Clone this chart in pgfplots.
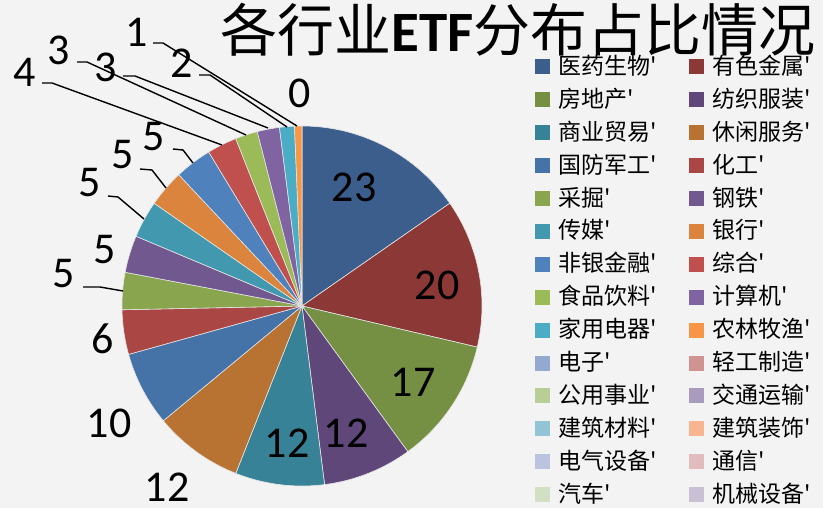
\documentclass[border=0pt]{standalone}
\usepackage{pgfplots}
\usepackage{pgfplotstable}
\pgfplotsset{compat=1.18}
\usepackage{fontspec}
\setmainfont{Carlito}
\newfontfamily\cjk{Noto Sans CJK SC}

\definecolor{bg}{HTML}{F3F3F3}
\definecolor{sep}{HTML}{E6E6E6}
\definecolor{c1}{HTML}{3B5E8C}
\definecolor{c2}{HTML}{8C3836}
\definecolor{c3}{HTML}{758F43}
\definecolor{c4}{HTML}{5F4879}
\definecolor{c5}{HTML}{378296}
\definecolor{c6}{HTML}{B87333}
\definecolor{c7}{HTML}{4572A7}
\definecolor{c8}{HTML}{AA4644}
\definecolor{c9}{HTML}{89A54E}
\definecolor{c10}{HTML}{71588F}
\definecolor{c11}{HTML}{4198AF}
\definecolor{c12}{HTML}{DB843D}
\definecolor{c13}{HTML}{4F81BD}
\definecolor{c14}{HTML}{C0504D}
\definecolor{c15}{HTML}{9BBB59}
\definecolor{c16}{HTML}{8064A2}
\definecolor{c17}{HTML}{4BACC6}
\definecolor{c18}{HTML}{F79646}
\definecolor{c19}{HTML}{93A9CF}
\definecolor{c20}{HTML}{D19392}
\definecolor{c21}{HTML}{B9CD96}
\definecolor{c22}{HTML}{A99BBD}
\definecolor{c23}{HTML}{92C4D6}
\definecolor{c24}{HTML}{F9B590}
\definecolor{c25}{HTML}{BAC4DE}
\definecolor{c26}{HTML}{E2BCBC}
\definecolor{c27}{HTML}{D3DFC2}
\definecolor{c28}{HTML}{C9C0D6}

% ETF count per industry
\pgfplotstableread[col sep=comma]{
name,val
医药生物,23
有色金属,20
房地产,17
纺织服装,12
商业贸易,12
休闲服务,12
国防军工,10
化工,6
采掘,5
钢铁,5
传媒,5
银行,5
非银金融,5
综合,4
食品饮料,3
计算机,3
家用电器,2
农林牧渔,1
电子,0
轻工制造,0
公用事业,0
交通运输,0
建筑材料,0
建筑装饰,0
电气设备,0
通信,0
汽车,0
机械设备,0
}\pietable

\newcommand{\labfont}{\fontsize{44}{44}\selectfont}

\begin{document}
\begin{tikzpicture}
\useasboundingbox (0,0) rectangle (823pt,508pt);
\fill[bg] (0,0) rectangle (823pt,508pt);
\begin{axis}[
  at={(0pt,0pt)}, anchor=south west,
  width=823pt, height=508pt, scale only axis,
  xmin=0, xmax=823, ymin=0, ymax=508, y dir=reverse,
  hide axis, clip=false,
  legend columns=2,
  legend cell align=left,
  legend image code/.code={\fill[#1] (0pt,-7.5pt) rectangle (15pt,7.5pt);},
  legend style={at={(0.6501,0.9006)}, anchor=north west, draw=none, fill=none,
    inner sep=0pt, outer sep=0pt, row sep=0pt,
    font=\cjk\fontsize{23}{23}\selectfont,
    nodes={inner sep=0pt, text height=24pt, text depth=8.9pt},
    /tikz/every odd column/.append style={column sep=8pt},
    /tikz/every even column/.append style={column sep=33pt}},
]
\pgfplotstablegetrowsof{\pietable}
\pgfmathtruncatemacro{\nlast}{\pgfplotsretval-1}
\gdef\pietotal{0}
\pgfplotsforeachungrouped \i in {0,...,\nlast}{%
  \pgfplotstablegetelem{\i}{val}\of{\pietable}%
  \pgfmathsetmacro{\tmp}{\pietotal+\pgfplotsretval}%
  \global\let\pietotal\tmp
}
\gdef\angstart{-90}
\pgfplotsforeachungrouped \i in {0,...,\nlast}{%
  \pgfplotstablegetelem{\i}{val}\of{\pietable}%
  \let\v\pgfplotsretval
  \pgfplotstablegetelem{\i}{name}\of{\pietable}%
  \let\nm\pgfplotsretval
  \pgfmathtruncatemacro{\ci}{\i+1}%
  \pgfmathsetmacro{\angend}{\angstart+360*\v/\pietotal}%
  \ifdim\v pt>0pt
    \edef\tmp{\noexpand\addplot[forget plot, fill=c\ci, draw=sep, line width=0.6pt,
      domain=\angstart:\angend, samples=40]
      ({302+180*cos(x)},{306+180*sin(x)}) -- (axis cs:302,306) -- cycle;}%
    \tmp
  \fi
  \edef\tmp{\noexpand\addlegendimage{fill=c\ci, draw=none}%
    \noexpand\addlegendentry{\nm'}}%
  \tmp
  \global\let\angstart\angend
}

% data labels
\node[font=\labfont] at (axis cs:354,187) {23};
\node[font=\labfont] at (axis cs:437,285) {20};
\node[font=\labfont] at (axis cs:413,382) {17};
\node[font=\labfont] at (axis cs:346,433) {12};
\node[font=\labfont] at (axis cs:287,443) {12};
\node[font=\labfont] at (axis cs:167,487) {12};
\node[font=\labfont] at (axis cs:109,423) {10};
\node[font=\labfont] at (axis cs:103,339) {6};
\node[font=\labfont] at (axis cs:64,274) {5};
\node[font=\labfont] at (axis cs:105,250) {5};
\node[font=\labfont] at (axis cs:90,183) {5};
\node[font=\labfont] at (axis cs:123,155) {5};
\node[font=\labfont] at (axis cs:154,137) {5};
\node[font=\labfont] at (axis cs:25,72) {4};
\node[font=\labfont] at (axis cs:59,50) {3};
\node[font=\labfont] at (axis cs:106,67) {3};
\node[font=\labfont] at (axis cs:182,63) {2};
\node[font=\labfont] at (axis cs:137,32) {1};
\node[font=\labfont] at (axis cs:300,93) {0};

% leader lines
\draw[line width=1.4pt] (axis cs:83,287) -- (axis cs:100,287) -- (axis cs:123,291);
\draw[line width=1.4pt] (axis cs:108,196) -- (axis cs:118,197) -- (axis cs:144,219);
\draw[line width=1.4pt] (axis cs:140,169) -- (axis cs:152,170) -- (axis cs:166,188);
\draw[line width=1.4pt] (axis cs:173,149) -- (axis cs:183,150) -- (axis cs:193,163);
\draw[line width=1.4pt] (axis cs:42,83) -- (axis cs:52,83) -- (axis cs:222,145);
\draw[line width=1.4pt] (axis cs:77,62) -- (axis cs:87,62) -- (axis cs:246,135);
\draw[line width=1.4pt] (axis cs:123,76) -- (axis cs:135,76) -- (axis cs:268,128);
\draw[line width=1.4pt] (axis cs:153,43) -- (axis cs:163,43) -- (axis cs:297,126);
\draw[line width=1.4pt] (axis cs:199,75) -- (axis cs:210,75) -- (axis cs:287,127);

% title
\node[anchor=base, font=\fontsize{57}{60}\selectfont] at (axis cs:518,52)
  {{\cjk 各行业}{\bfseries ETF}{\cjk 分布占比情况}};
\end{axis}
\end{tikzpicture}
\end{document}
